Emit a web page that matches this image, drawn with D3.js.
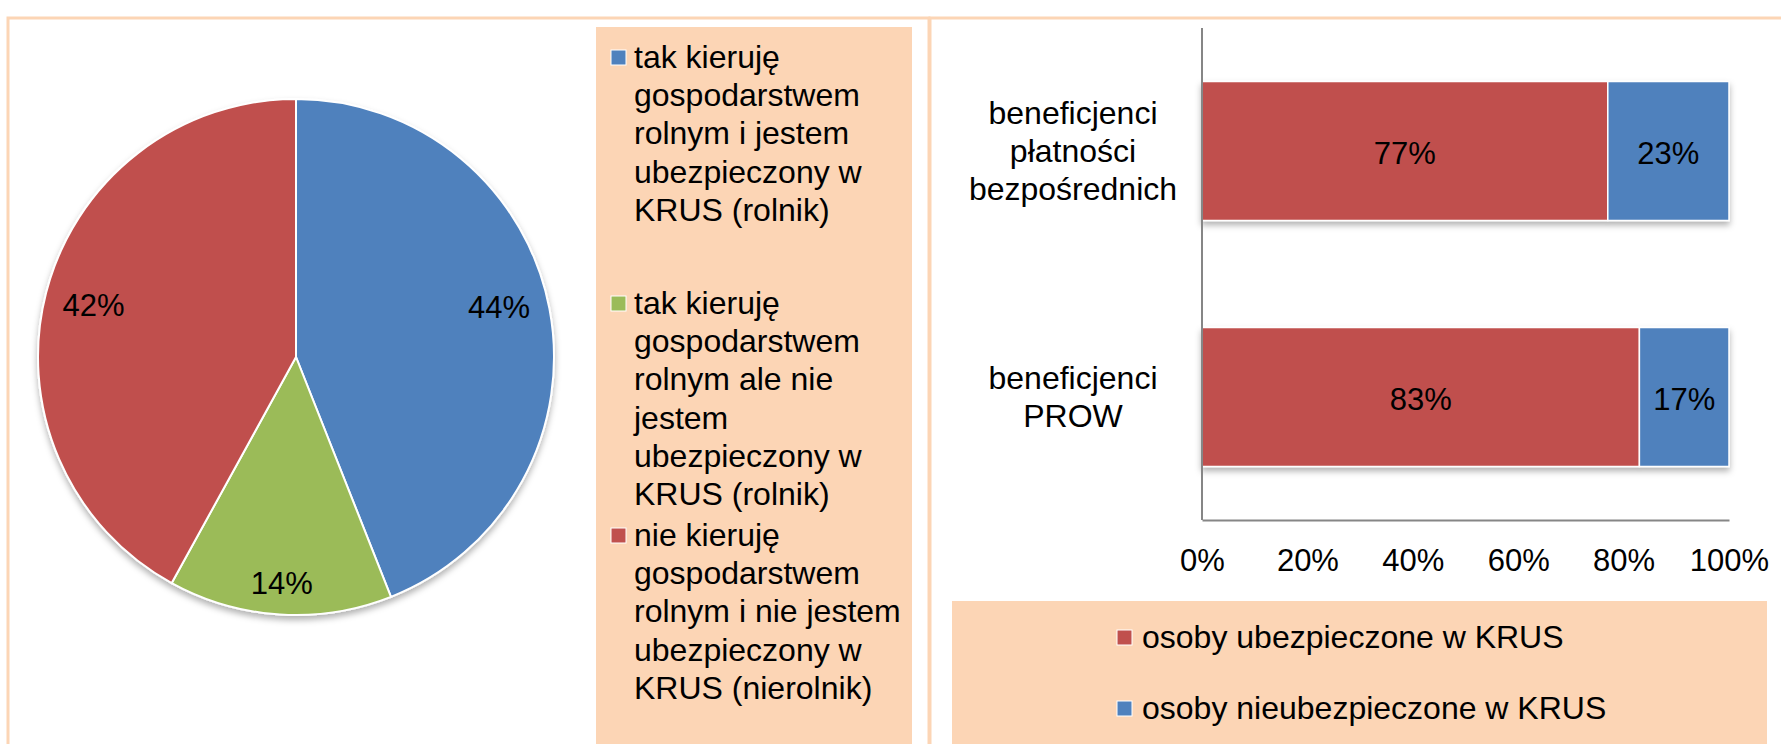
<meta charset="utf-8">
<script src="https://d3js.org/d3.v7.min.js"></script>
<style>
body { margin: 0; background: #fff; }
svg text { font-family: "Liberation Sans", Arial, sans-serif; fill: #000; }
</style>
<body>
<script>
// pie: who runs a farm
var pieCategories = [
    ["tak kieruję", "gospodarstwem", "rolnym i jestem", "ubezpieczony w", "KRUS (rolnik)"],
    ["tak kieruję", "gospodarstwem", "rolnym ale nie", "jestem", "ubezpieczony w", "KRUS (rolnik)"],
    ["nie kieruję", "gospodarstwem", "rolnym i nie jestem", "ubezpieczony w", "KRUS (nierolnik)"]
];
var pieValues = [44, 14, 42];
var pieColors = ["#4f81bd", "#9bbb59", "#c0504d"];

// stacked bars: beneficiaries
var barCategories = [
    ["beneficjenci", "płatności", "bezpośrednich"],
    ["beneficjenci", "PROW"]
];
var insuredValues = [77, 83];
var uninsuredValues = [23, 17];
var seriesNames = ["osoby ubezpieczone w KRUS", "osoby nieubezpieczone w KRUS"];
var seriesColors = ["#c0504d", "#4f81bd"];
var xTicks = [0, 20, 40, 60, 80, 100];

var W = 1781, H = 744;
var frameColor = "#fcd5b5";

var svg = d3.select("body").append("svg")
    .attr("width", W)
    .attr("height", H);

var defs = svg.append("defs");
var f = defs.append("filter").attr("id", "shadow")
    .attr("x", "-10%").attr("y", "-10%").attr("width", "120%").attr("height", "130%");
f.append("feDropShadow")
    .attr("dx", 0).attr("dy", 4).attr("stdDeviation", 3)
    .attr("flood-color", "#000").attr("flood-opacity", 0.3);

// panel frames
svg.append("rect").attr("x", 8).attr("y", 18).attr("width", 921).attr("height", 760)
    .attr("fill", "none").attr("stroke", frameColor).attr("stroke-width", 3);
svg.append("rect").attr("x", 930).attr("y", 18).attr("width", 880).attr("height", 760)
    .attr("fill", "none").attr("stroke", frameColor).attr("stroke-width", 3);

// ---------- pie ----------
var R = 258;
var pieG = svg.append("g").attr("transform", "translate(296,357)");
var pie = d3.pie().sort(null).value(function(d) { return d; });
var arcs = pie(pieValues);
var arc = d3.arc().innerRadius(0).outerRadius(R);

pieG.append("g").attr("filter", "url(#shadow)")
    .selectAll("path")
    .data(arcs)
    .enter().append("path")
    .attr("d", arc)
    .attr("fill", function(d, i) { return pieColors[i]; })
    .attr("stroke", "#fff")
    .attr("stroke-width", 2);

pieG.selectAll(".plabel")
    .data(arcs)
    .enter().append("text")
    .attr("class", "plabel")
    .attr("transform", function(d) {
        var small = (d.endAngle - d.startAngle) < 1;
        var r = R * (small ? 0.88 : 0.81);
        var mid = (d.startAngle + d.endAngle) / 2;
        // right-side label sits a little higher, like Excel's best fit
        var a = mid - 0.05 * Math.max(0, Math.sin(mid));
        return "translate(" + (Math.sin(a) * r) + "," + (-Math.cos(a) * r) + ")";
    })
    .attr("text-anchor", "middle")
    .attr("dominant-baseline", "central")
    .attr("font-size", "31px")
    .text(function(d) { return d.data + "%"; });

// pie legend
svg.append("rect").attr("x", 596).attr("y", 27).attr("width", 316).attr("height", 740)
    .attr("fill", frameColor);
var legTops = [57, 303, 535];
var lineH = 38.2;
pieCategories.forEach(function(lines, i) {
    var g = svg.append("g").attr("transform", "translate(611," + legTops[i] + ")");
    g.append("rect").attr("x", 0).attr("y", -7).attr("width", 15).attr("height", 15)
        .attr("fill", pieColors[i]).attr("stroke", "#fff").attr("stroke-width", 1);
    g.selectAll("text").data(lines).enter().append("text")
        .attr("x", 23)
        .attr("y", function(d, j) { return j * lineH; })
        .attr("dominant-baseline", "central")
        .attr("font-size", "32px")
        .text(function(d) { return d; });
});

// ---------- stacked bars ----------
var x = d3.scaleLinear().domain([0, 100]).range([1202, 1729]);
var y = d3.scaleBand().domain(d3.range(barCategories.length)).range([28, 520]).paddingInner(0.435).paddingOuter(0.2175);

var barG = svg.append("g");
var rows = barCategories.map(function(c, i) {
    return [
        { i: i, x0: 0, x1: insuredValues[i], v: insuredValues[i], c: seriesColors[0] },
        { i: i, x0: insuredValues[i], x1: insuredValues[i] + uninsuredValues[i], v: uninsuredValues[i], c: seriesColors[1] }
    ];
});
var segs = [].concat.apply([], rows);

barG.append("g").attr("filter", "url(#shadow)")
    .selectAll("rect")
    .data(segs)
    .enter().append("rect")
    .attr("x", function(d) { return x(d.x0); })
    .attr("y", function(d) { return y(d.i); })
    .attr("width", function(d) { return x(d.x1) - x(d.x0); })
    .attr("height", y.bandwidth())
    .attr("fill", function(d) { return d.c; })
    .attr("stroke", "#fff")
    .attr("stroke-width", 1.5);

barG.selectAll(".blabel")
    .data(segs)
    .enter().append("text")
    .attr("class", "blabel")
    .attr("x", function(d) { return (x(d.x0) + x(d.x1)) / 2; })
    .attr("y", function(d) { return y(d.i) + y.bandwidth() / 2 + 2; })
    .attr("text-anchor", "middle")
    .attr("dominant-baseline", "central")
    .attr("font-size", "31px")
    .text(function(d) { return d.v + "%"; });

// axes
var axisColor = "#868686";
svg.append("line").attr("x1", 1202).attr("x2", 1202).attr("y1", 28).attr("y2", 520)
    .attr("stroke", axisColor).attr("stroke-width", 2);
var xAxis = svg.append("g")
    .attr("transform", "translate(0,520)")
    .call(d3.axisBottom(x).tickValues(xTicks).tickSize(0).tickPadding(29)
        .tickFormat(function(d) { return d + "%"; }));
xAxis.select(".domain").attr("stroke", axisColor).attr("stroke-width", 2);
xAxis.selectAll("text")
    .attr("font-size", "31px")
    .attr("font-family", "Liberation Sans, Arial, sans-serif")
    .attr("fill", "#000");

// category labels
barCategories.forEach(function(lines, i) {
    var cy = y(i) + y.bandwidth() / 2;
    var n = lines.length;
    svg.append("g").selectAll("text").data(lines).enter().append("text")
        .attr("x", 1073)
        .attr("y", function(d, j) { return cy + (j - (n - 1) / 2) * 38; })
        .attr("text-anchor", "middle")
        .attr("dominant-baseline", "central")
        .attr("font-size", "32px")
        .text(function(d) { return d; });
});

// bar legend
svg.append("rect").attr("x", 952).attr("y", 601).attr("width", 815).attr("height", 160)
    .attr("fill", frameColor);
var legY = [637, 708];
seriesNames.forEach(function(name, i) {
    var g = svg.append("g").attr("transform", "translate(1117," + legY[i] + ")");
    g.append("rect").attr("x", 0).attr("y", -7).attr("width", 15).attr("height", 15)
        .attr("fill", seriesColors[i]).attr("stroke", "#fff").attr("stroke-width", 1);
    g.append("text").attr("x", 25).attr("y", 0)
        .attr("dominant-baseline", "central")
        .attr("font-size", "32px")
        .text(name);
});
</script>
</body>
